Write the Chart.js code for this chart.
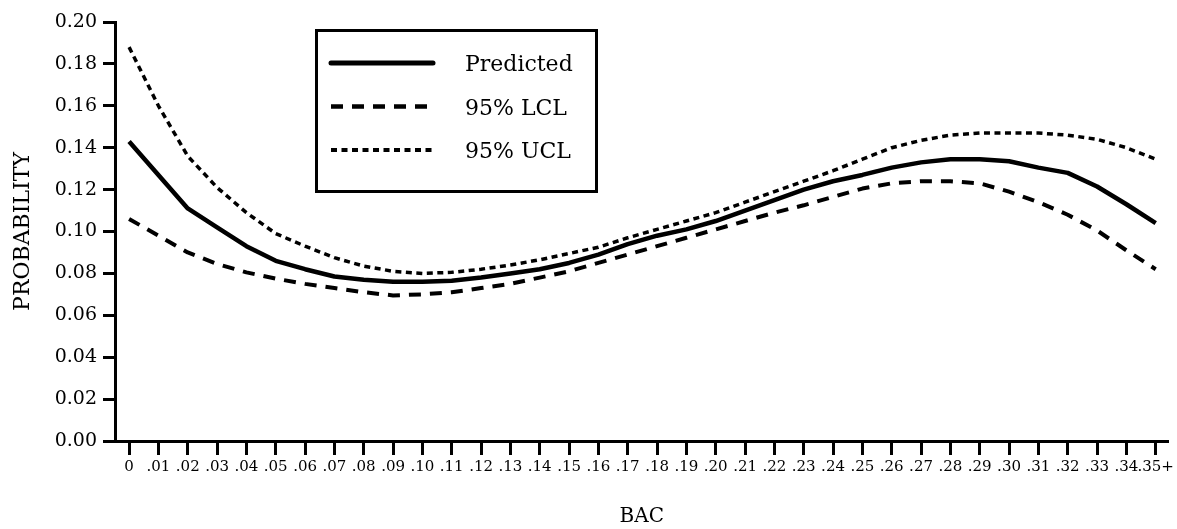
<!DOCTYPE html>
<html><head><meta charset="utf-8">
<script src="https://cdn.jsdelivr.net/npm/chart.js@4/dist/chart.umd.min.js"></script>
<style>html,body{margin:0;padding:0;background:#fff}#wrap{width:1177px;height:529px}</style>
</head><body><div id="wrap"><canvas id="c" width="1177" height="529"></canvas></div>
<script>
const bacLabels = ['0','.01','.02','.03','.04','.05','.06','.07','.08','.09','.10','.11','.12','.13','.14','.15','.16','.17','.18','.19','.20','.21','.22','.23','.24','.25','.26','.27','.28','.29','.30','.31','.32','.33','.34','.35+'];
const predicted = [0.143,0.127,0.111,0.102,0.093,0.086,0.082,0.0785,0.077,0.076,0.076,0.0765,0.078,0.080,0.082,0.085,0.089,0.094,0.098,0.101,0.105,0.110,0.115,0.120,0.124,0.127,0.1305,0.133,0.1345,0.1345,0.1335,0.1305,0.128,0.1215,0.113,0.104];
const lcl = [0.106,0.098,0.090,0.0845,0.0805,0.0775,0.075,0.073,0.071,0.0695,0.070,0.071,0.073,0.075,0.078,0.081,0.085,0.089,0.093,0.097,0.101,0.105,0.109,0.1125,0.1165,0.1205,0.123,0.124,0.124,0.123,0.119,0.114,0.108,0.1005,0.091,0.082];
const ucl = [0.188,0.160,0.136,0.121,0.109,0.099,0.093,0.0875,0.0835,0.081,0.080,0.0805,0.082,0.084,0.0865,0.0895,0.0925,0.097,0.101,0.105,0.109,0.114,0.119,0.124,0.129,0.1345,0.140,0.1435,0.146,0.147,0.147,0.147,0.146,0.144,0.140,0.1345];
const yTicks = [0,0.02,0.04,0.06,0.08,0.10,0.12,0.14,0.16,0.18,0.20];
const seriesNames = ['Predicted','95% LCL','95% UCL'];

const FONT = 'DejaVu Serif';
function mkDs(label, vals, width, dash){
  return {label, data: vals.map((y,i)=>({x:i,y})), borderColor:'#000', borderWidth:width,
    borderDash:dash, pointRadius:0, tension:0, fill:false, borderCapStyle:'butt', borderJoinStyle:'round'};
}

const boxLegend = {
  id:'boxLegend',
  afterDraw(chart){
    const ctx = chart.ctx;
    ctx.save();
    ctx.strokeStyle = '#000';
    ctx.lineWidth = 3;
    ctx.setLineDash([]);
    ctx.strokeRect(316.5, 30.5, 280, 161);
    ctx.font = '22px "' + FONT + '"';
    ctx.fillStyle = '#000';
    ctx.textBaseline = 'alphabetic';
    chart.data.datasets.forEach((d,i)=>{
      const y = 63 + i*43.5;
      ctx.beginPath();
      ctx.setLineDash(d.borderDash || []);
      ctx.lineWidth = d.borderWidth + 0.5;
      ctx.lineCap = i === 0 ? 'round' : 'butt';
      ctx.moveTo(331, y); ctx.lineTo(433, y);
      ctx.stroke();
      ctx.setLineDash([]);
      ctx.fillText(d.label, 465, y + 8);
    });
    ctx.restore();
  }
};

new Chart(document.getElementById('c'), {
  type:'line',
  data:{ datasets:[
    mkDs(seriesNames[0], predicted, 4.5, []),
    mkDs(seriesNames[1], lcl, 4, [12, 9]),
    mkDs(seriesNames[2], ucl, 3.5, [6, 4.5])
  ]},
  options:{
    responsive:false, animation:false, devicePixelRatio:1,
    layout:{padding:{left:0,right:7,top:22,bottom:0}},
    plugins:{legend:{display:false}, tooltip:{enabled:false}},
    scales:{
      x:{type:'linear', min:-0.48, max:35.44,
        afterBuildTicks: s => { s.ticks = bacLabels.map((_,i)=>({value:i})); },
        afterFit: s => { s.height = 88; },
        ticks:{callback:(v)=>bacLabels[Math.round(v)], autoSkip:false, maxRotation:0, minRotation:0,
          font:{family:FONT,size:15}, color:'#000', padding:3},
        grid:{display:true, drawOnChartArea:false, drawTicks:true, tickLength:14, tickWidth:3, color:'#000'},
        border:{display:true, color:'#000', width:3},
        title:{display:true, text:'BAC', font:{family:FONT,size:20}, color:'#000', padding:{top:4,bottom:0}}
      },
      y:{min:0, max:0.2,
        afterBuildTicks: s => { s.ticks = yTicks.map(v=>({value:v})); },
        afterFit: s => { s.width = 115; },
        ticks:{callback:(v)=>Number(v).toFixed(2), font:{family:FONT,size:19}, color:'#000', padding:6},
        grid:{display:true, drawOnChartArea:false, drawTicks:true, tickLength:12, tickWidth:3, color:'#000'},
        border:{display:true, color:'#000', width:3},
        title:{display:true, text:'PROBABILITY', font:{family:FONT,size:22}, color:'#000', padding:{top:10,bottom:0}}
      }
    }
  },
  plugins:[boxLegend]
});
</script></body></html>
